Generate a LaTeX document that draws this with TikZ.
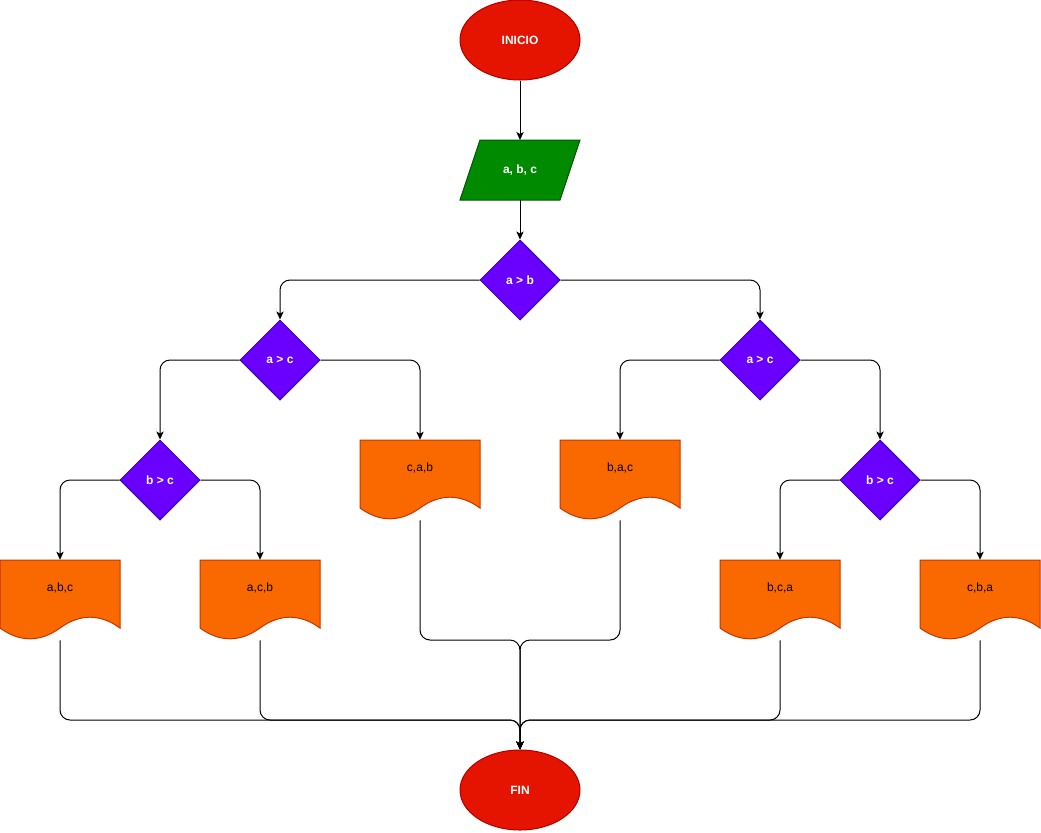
\documentclass[tikz,border=0pt]{standalone}
\usepackage{fontspec}
\setmainfont{Liberation Sans}
\usetikzlibrary{shapes.geometric,arrows.meta}

\definecolor{termfill}{HTML}{E51400}
\definecolor{termline}{HTML}{B20000}
\definecolor{iofill}{HTML}{008A00}
\definecolor{ioline}{HTML}{005700}
\definecolor{decfill}{HTML}{6A00FF}
\definecolor{decline}{HTML}{3700CC}
\definecolor{docfill}{HTML}{FA6800}
\definecolor{docline}{HTML}{C73500}

\tikzset{
  terminal/.style={ellipse, fill=termfill, draw=termline, line width=0.75pt,
    minimum width=90pt, minimum height=60pt, inner sep=0pt,
    text=white, font=\fontsize{9}{11}\selectfont\bfseries},
  decision/.style={diamond, aspect=1, fill=decfill, draw=decline, line width=0.75pt,
    minimum width=60pt, minimum height=60pt, inner sep=0pt,
    text=white, font=\fontsize{9}{11}\selectfont\bfseries},
  iotext/.style={text=white, font=\fontsize{9}{11}\selectfont\bfseries, inner sep=0pt},
  docbody/.style={rectangle, minimum width=90pt, minimum height=60pt, inner sep=0pt},
  doctext/.style={text=black, font=\fontsize{9}{11}\selectfont, inner sep=0pt},
  flow/.style={draw=black, line width=0.75pt, rounded corners=7.5pt,
    -{Stealth[length=6pt,width=5.5pt,inset=1.5pt]}},
}

% document symbol: name, left x, top y, label
\newcommand\docsymbol[4]{%
  \filldraw[fill=docfill, draw=docline, line width=0.75pt]
    (#2,#3) -- ++(120,0) -- ++(0,68)
    .. controls ++(-20,-14.4) and ++(20,-14.4) .. ++(-60,0)
    .. controls ++(-20,14.4) and ++(20,14.4) .. ++(-60,0) -- cycle;
  \node[docbody] (#1) at (#2+60,#3+40) {};
  \node[doctext] (#1-t) at (#2+60,#3+28) {#4};
}

\begin{document}
\begin{tikzpicture}[x=0.75pt,y=-0.75pt]
\useasboundingbox (0,0) rectangle (1041,832);

% start / end
\node[terminal] (ini) at (520,40) {INICIO};
\node[terminal] (fin) at (520,790) {FIN};

% input
\filldraw[fill=iofill, draw=ioline, line width=0.75pt]
  (480,140) -- (580,140) -- (560,200) -- (460,200) -- cycle;
\node[iotext] (in) at (520,170) {a, b, c};
\coordinate (inTop) at (520,140);
\coordinate (inBot) at (520,200);

% decisions
\node[decision] (d1) at (520,280) {a > b};
\node[decision] (d2) at (280,360) {a > c};
\node[decision] (d3) at (760,360) {a > c};
\node[decision] (d4) at (160,480) {b > c};
\node[decision] (d5) at (880,480) {b > c};

% outputs
\docsymbol{abc}{0}{560}{a,b,c}
\docsymbol{acb}{200}{560}{a,c,b}
\docsymbol{cab}{360}{440}{c,a,b}
\docsymbol{bac}{560}{440}{b,a,c}
\docsymbol{bca}{720}{560}{b,c,a}
\docsymbol{cba}{920}{560}{c,b,a}

% merge points above the end symbol
\coordinate (j1) at (520,640);
\coordinate (j2) at (520,720);

% flow
\draw[flow] (ini.south) -- (inTop);
\draw[flow] (inBot) -- (d1.north);
\draw[flow] (d1.west) -| (d2.north);
\draw[flow] (d1.east) -| (d3.north);
\draw[flow] (d2.west) -| (d4.north);
\draw[flow] (d2.east) -| (cab.north);
\draw[flow] (d3.west) -| (bac.north);
\draw[flow] (d3.east) -| (d5.north);
\draw[flow] (d4.west) -| (abc.north);
\draw[flow] (d4.east) -| (acb.north);
\draw[flow] (d5.west) -| (bca.north);
\draw[flow] (d5.east) -| (cba.north);

\draw[flow] (cab.south) |- (j1) -- (fin.north);
\draw[flow] (bac.south) |- (j1) -- (fin.north);
\draw[flow] (abc.south) |- (j2) -- (fin.north);
\draw[flow] (acb.south) |- (j2) -- (fin.north);
\draw[flow] (bca.south) |- (j2) -- (fin.north);
\draw[flow] (cba.south) |- (j2) -- (fin.north);
\end{tikzpicture}
\end{document}
